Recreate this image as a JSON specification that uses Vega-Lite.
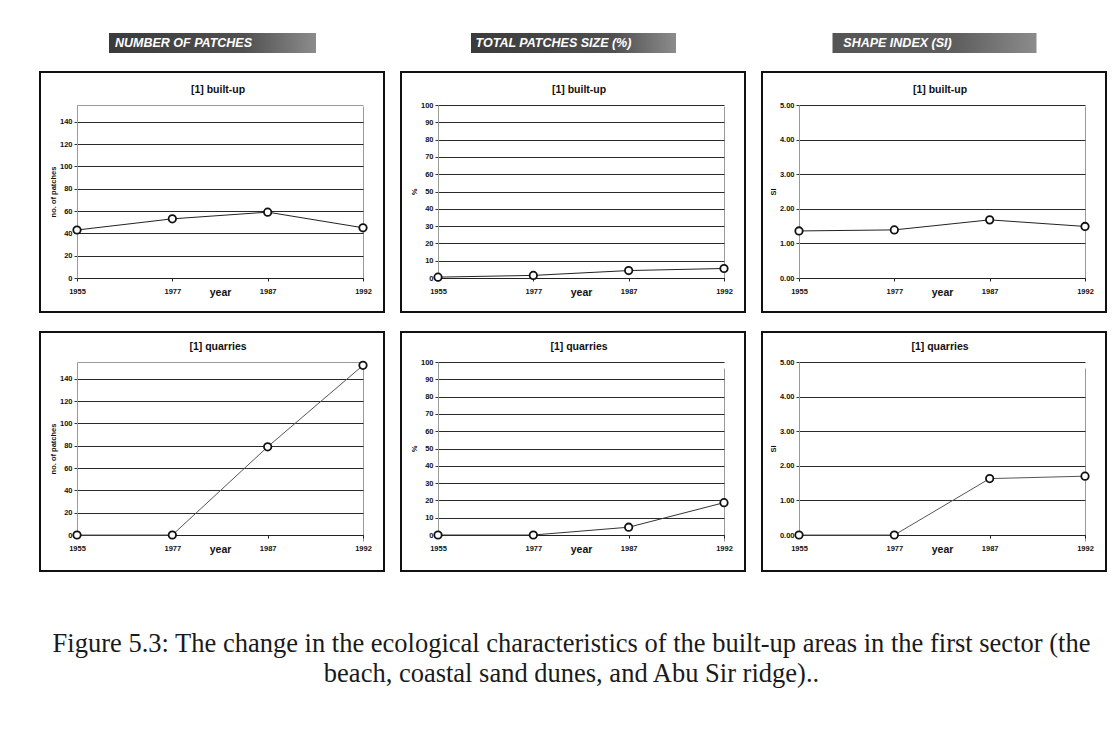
{
  "$schema": "https://vega.github.io/schema/vega-lite/v6.json",
  "background": "white",
  "padding": {"left": 39, "top": 33, "right": 0, "bottom": 0},
  "datasets": {
    "series": [
      {"metric": "patches", "landuse": "built-up", "year": 1955, "value": 43},
      {"metric": "patches", "landuse": "built-up", "year": 1977, "value": 53},
      {"metric": "patches", "landuse": "built-up", "year": 1987, "value": 59},
      {"metric": "patches", "landuse": "built-up", "year": 1992, "value": 45},
      {"metric": "patches", "landuse": "quarries", "year": 1955, "value": 0},
      {"metric": "patches", "landuse": "quarries", "year": 1977, "value": 0},
      {"metric": "patches", "landuse": "quarries", "year": 1987, "value": 79},
      {"metric": "patches", "landuse": "quarries", "year": 1992, "value": 152},
      {"metric": "size", "landuse": "built-up", "year": 1955, "value": 0.5},
      {"metric": "size", "landuse": "built-up", "year": 1977, "value": 1.5},
      {"metric": "size", "landuse": "built-up", "year": 1987, "value": 4.3},
      {"metric": "size", "landuse": "built-up", "year": 1992, "value": 5.5},
      {"metric": "size", "landuse": "quarries", "year": 1955, "value": 0},
      {"metric": "size", "landuse": "quarries", "year": 1977, "value": 0},
      {"metric": "size", "landuse": "quarries", "year": 1987, "value": 4.5},
      {"metric": "size", "landuse": "quarries", "year": 1992, "value": 18.7},
      {"metric": "si", "landuse": "built-up", "year": 1955, "value": 1.36},
      {"metric": "si", "landuse": "built-up", "year": 1977, "value": 1.39},
      {"metric": "si", "landuse": "built-up", "year": 1987, "value": 1.68},
      {"metric": "si", "landuse": "built-up", "year": 1992, "value": 1.49},
      {"metric": "si", "landuse": "quarries", "year": 1955, "value": 0},
      {"metric": "si", "landuse": "quarries", "year": 1977, "value": 0},
      {"metric": "si", "landuse": "quarries", "year": 1987, "value": 1.63},
      {"metric": "si", "landuse": "quarries", "year": 1992, "value": 1.70}
    ]
  },
  "spacing": 57,
  "vconcat": [
    {
      "hconcat": [
        {
          "center": true,
          "vconcat": [
            {
              "width": 207, "height": 20, "view": {"stroke": null},
              "data": {"values": [{"label": "NUMBER OF PATCHES"}]},
              "layer": [
                {"mark": {"type": "rect", "color": {"gradient": "linear", "x1": 0, "x2": 1, "y1": 0, "y2": 0, "stops": [{"offset": 0, "color": "#3a3a3a"}, {"offset": 0.65, "color": "#505050"}, {"offset": 1, "color": "#8c8c8c"}]}}, "encoding": {}},
                {"mark": {"type": "text", "color": "white", "font": "Liberation Sans", "fontSize": 12.5, "fontStyle": "italic", "fontWeight": "bold", "dx": -29}, "encoding": {"text": {"field": "label"}}}
              ]
            },
            {
              "width": 344, "height": 240,
              "title": {"text": "[1] built-up", "offset": -23, "anchor": "middle", "dx": 6},
              "data": {"name": "series"},
              "transform": [{"filter": "datum.metric === 'patches' && datum.landuse === 'built-up'"}],
              "encoding": {
                "x": {"field": "year", "type": "ordinal", "scale": {"type": "point", "padding": 0, "range": [37, 323]},
                  "axis": {"title": "year", "offset": -34, "gridOpacity": {"condition": {"test": "datum.value == 1992", "value": 1}, "value": 0}}},
                "y": {"field": "value", "type": "quantitative", "scale": {"domain": [0, 155], "nice": false, "range": [206, 33]},
                  "axis": {"title": "no. of patches", "offset": -37, "values": [0, 20, 40, 60, 80, 100, 120, 140, 155], "format": "d",
                    "labelExpr": "datum.value > 150 ? '' : datum.label",
                    "tickOpacity": {"condition": {"test": "datum.value > 150", "value": 0}, "value": 1},
                    "gridColor": {"condition": {"test": "datum.value > 150", "value": "#9a9a9a"}, "value": "#2a2a2a"}}}
              },
              "layer": [
                {"mark": {"type": "line", "color": "#222", "strokeWidth": 1}},
                {"mark": {"type": "point", "filled": true, "fill": "white", "stroke": "#111", "strokeWidth": 1.8, "size": 55, "opacity": 1}}
              ]
            },
            {
              "width": 344, "height": 239,
              "title": {"text": "[1] quarries", "offset": -20, "anchor": "middle", "dx": 6},
              "data": {"name": "series"},
              "transform": [{"filter": "datum.metric === 'patches' && datum.landuse === 'quarries'"}],
              "encoding": {
                "x": {"field": "year", "type": "ordinal", "scale": {"type": "point", "padding": 0, "range": [37, 323]},
                  "axis": {"title": "year", "offset": -36, "gridOpacity": {"condition": {"test": "datum.value == 1992", "value": 1}, "value": 0}}},
                "y": {"field": "value", "type": "quantitative", "scale": {"domain": [0, 155], "nice": false, "range": [203, 30]},
                  "axis": {"title": "no. of patches", "offset": -37, "values": [0, 20, 40, 60, 80, 100, 120, 140, 155], "format": "d",
                    "labelExpr": "datum.value > 150 ? '' : datum.label",
                    "tickOpacity": {"condition": {"test": "datum.value > 150", "value": 0}, "value": 1},
                    "gridColor": {"condition": {"test": "datum.value > 150", "value": "#9a9a9a"}, "value": "#2a2a2a"}}}
              },
              "layer": [
                {"mark": {"type": "line", "color": "#555", "strokeWidth": 1}},
                {"mark": {"type": "point", "filled": true, "fill": "white", "stroke": "#111", "strokeWidth": 1.8, "size": 55, "opacity": 1}}
              ]
            }
          ]
        },
        {
          "center": true,
          "vconcat": [
            {
              "width": 205, "height": 20, "view": {"stroke": null},
              "data": {"values": [{"label": "TOTAL PATCHES SIZE (%)"}]},
              "layer": [
                {"mark": {"type": "rect", "color": {"gradient": "linear", "x1": 0, "x2": 1, "y1": 0, "y2": 0, "stops": [{"offset": 0, "color": "#3a3a3a"}, {"offset": 0.7, "color": "#505050"}, {"offset": 1, "color": "#8c8c8c"}]}}, "encoding": {}},
                {"mark": {"type": "text", "color": "white", "font": "Liberation Sans", "fontSize": 12.5, "fontStyle": "italic", "fontWeight": "bold", "dx": -20}, "encoding": {"text": {"field": "label"}}}
              ]
            },
            {
              "width": 344, "height": 240,
              "title": {"text": "[1] built-up", "offset": -23, "anchor": "middle", "dx": 6},
              "data": {"name": "series"},
              "transform": [{"filter": "datum.metric === 'size' && datum.landuse === 'built-up'"}],
              "encoding": {
                "x": {"field": "year", "type": "ordinal", "scale": {"type": "point", "padding": 0, "range": [37, 323]},
                  "axis": {"title": "year", "offset": -34, "gridOpacity": {"condition": {"test": "datum.value == 1992", "value": 1}, "value": 0}}},
                "y": {"field": "value", "type": "quantitative", "scale": {"domain": [0, 100], "nice": false, "range": [206, 33]},
                  "axis": {"title": "%", "offset": -37, "values": [0, 10, 20, 30, 40, 50, 60, 70, 80, 90, 100], "format": "d", "gridColor": "#2a2a2a"}}
              },
              "layer": [
                {"mark": {"type": "line", "color": "#222", "strokeWidth": 1}},
                {"mark": {"type": "point", "filled": true, "fill": "white", "stroke": "#111", "strokeWidth": 1.8, "size": 55, "opacity": 1}}
              ]
            },
            {
              "width": 344, "height": 239,
              "title": {"text": "[1] quarries", "offset": -20, "anchor": "middle", "dx": 6},
              "data": {"name": "series"},
              "transform": [{"filter": "datum.metric === 'size' && datum.landuse === 'quarries'"}],
              "encoding": {
                "x": {"field": "year", "type": "ordinal", "scale": {"type": "point", "padding": 0, "range": [37, 323]},
                  "axis": {"title": "year", "offset": -36, "gridOpacity": {"condition": {"test": "datum.value == 1992", "value": 1}, "value": 0}}},
                "y": {"field": "value", "type": "quantitative", "scale": {"domain": [0, 100], "nice": false, "range": [203, 30]},
                  "axis": {"title": "%", "offset": -37, "values": [0, 10, 20, 30, 40, 50, 60, 70, 80, 90, 100], "format": "d", "gridColor": "#2a2a2a"}}
              },
              "layer": [
                {"mark": {"type": "line", "color": "#333", "strokeWidth": 1}},
                {"mark": {"type": "point", "filled": true, "fill": "white", "stroke": "#111", "strokeWidth": 1.8, "size": 55, "opacity": 1}}
              ]
            }
          ]
        },
        {
          "center": true,
          "vconcat": [
            {
              "width": 204, "height": 20, "view": {"stroke": null},
              "data": {"values": [{"label": "SHAPE INDEX (SI)"}]},
              "layer": [
                {"mark": {"type": "rect", "color": {"gradient": "linear", "x1": 0, "x2": 1, "y1": 0, "y2": 0, "stops": [{"offset": 0, "color": "#555555"}, {"offset": 0.6, "color": "#5e5e5e"}, {"offset": 1, "color": "#8c8c8c"}]}}, "encoding": {}},
                {"mark": {"type": "text", "color": "white", "font": "Liberation Sans", "fontSize": 12.5, "fontStyle": "italic", "fontWeight": "bold", "dx": -37}, "encoding": {"text": {"field": "label"}}}
              ]
            },
            {
              "width": 344, "height": 240,
              "title": {"text": "[1] built-up", "offset": -23, "anchor": "middle", "dx": 6},
              "data": {"name": "series"},
              "transform": [{"filter": "datum.metric === 'si' && datum.landuse === 'built-up'"}],
              "encoding": {
                "x": {"field": "year", "type": "ordinal", "scale": {"type": "point", "padding": 0, "range": [37, 323]},
                  "axis": {"title": "year", "offset": -34, "gridOpacity": {"condition": {"test": "datum.value == 1992", "value": 1}, "value": 0}}},
                "y": {"field": "value", "type": "quantitative", "scale": {"domain": [0, 5], "nice": false, "range": [206, 33]},
                  "axis": {"title": "SI", "offset": -37, "values": [0, 1, 2, 3, 4, 5], "format": ".2f", "gridColor": "#2a2a2a"}}
              },
              "layer": [
                {"mark": {"type": "line", "color": "#222", "strokeWidth": 1}},
                {"mark": {"type": "point", "filled": true, "fill": "white", "stroke": "#111", "strokeWidth": 1.8, "size": 55, "opacity": 1}}
              ]
            },
            {
              "width": 344, "height": 239,
              "title": {"text": "[1] quarries", "offset": -20, "anchor": "middle", "dx": 6},
              "data": {"name": "series"},
              "transform": [{"filter": "datum.metric === 'si' && datum.landuse === 'quarries'"}],
              "encoding": {
                "x": {"field": "year", "type": "ordinal", "scale": {"type": "point", "padding": 0, "range": [37, 323]},
                  "axis": {"title": "year", "offset": -36, "gridOpacity": {"condition": {"test": "datum.value == 1992", "value": 1}, "value": 0}}},
                "y": {"field": "value", "type": "quantitative", "scale": {"domain": [0, 5], "nice": false, "range": [203, 30]},
                  "axis": {"title": "SI", "offset": -37, "values": [0, 1, 2, 3, 4, 5], "format": ".2f", "gridColor": "#2a2a2a"}}
              },
              "layer": [
                {"mark": {"type": "line", "color": "#555", "strokeWidth": 1}},
                {"mark": {"type": "point", "filled": true, "fill": "white", "stroke": "#111", "strokeWidth": 1.8, "size": 55, "opacity": 1}}
              ]
            }
          ]
        }
      ],
      "spacing": 15
    },
    {
      "width": 1063, "height": 60, "view": {"stroke": null},
      "data": {"values": [
        {"line": 1, "text": "Figure 5.3: The change in the ecological characteristics of the built-up areas in the first sector (the"},
        {"line": 2, "text": "beach, coastal sand dunes, and Abu Sir ridge).."}
      ]},
      "mark": {"type": "text", "font": "Liberation Serif", "fontSize": 26.5, "color": "#1a1a1a"},
      "encoding": {
        "y": {"field": "line", "type": "ordinal", "axis": null, "scale": {"type": "point", "padding": 0.5}},
        "text": {"field": "text"}
      }
    }
  ],
  "config": {
    "concat": {"spacing": 18},
    "view": {"stroke": "#111", "strokeWidth": 2},
    "title": {"font": "Liberation Sans", "fontSize": 10.5, "fontWeight": "bold", "color": "#111"},
    "axis": {"labelFont": "Liberation Sans", "labelFontSize": 7.5, "labelFontWeight": "bold", "labelColor": "#111",
      "titleFont": "Liberation Sans", "titleColor": "#111", "ticks": true, "tickSize": 3},
    "axisX": {"labelAngle": 0, "labelPadding": 6, "domainColor": "#222", "tickColor": "#222", "titleFontSize": 10.5, "titleFontWeight": "bold",
      "titleY": 17, "titleBaseline": "alphabetic", "grid": true, "gridColor": "#9a9a9a"},
    "axisY": {"labelPadding": 2, "domainColor": "#9a9a9a", "tickColor": "#333", "titleFontSize": 7.5, "titleFontWeight": "bold", "titlePadding": 2, "grid": true}
  }
}
